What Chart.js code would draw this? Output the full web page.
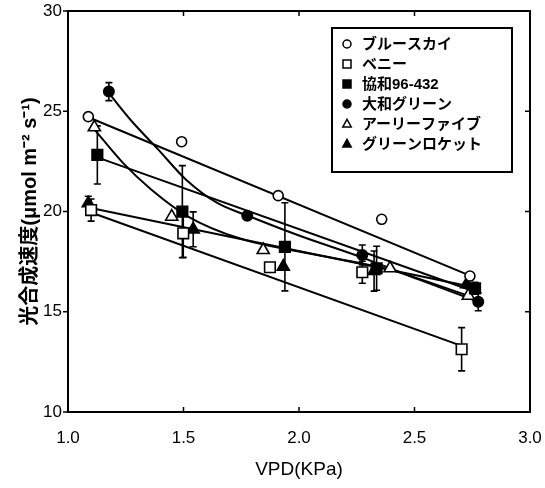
<!DOCTYPE html>
<html>
<head>
<meta charset="utf-8">
<script src="https://cdn.jsdelivr.net/npm/chart.js@4.4.0/dist/chart.umd.min.js"></script>
<style>
  html, body { margin: 0; padding: 0; background: #fff; }
  #wrap { width: 545px; height: 488px; }
</style>
</head>
<body>
<div id="wrap"><canvas id="the-graph" width="545" height="488"></canvas></div>
<script>
var xTicks = [1.0, 1.5, 2.0, 2.5, 3.0];
var yTicks = [10, 15, 20, 25, 30];

var names = ['ブルースカイ', 'ベニー', '協和96-432', '大和グリーン', 'アーリーファイブ', 'グリーンロケット'];

// measured points (VPD kPa, rate), error = half bar length
var vpdBlueSky = [1.088, 1.492, 1.910, 2.358, 2.740];
var rateBlueSky = [24.73, 23.48, 20.79, 19.61, 16.78];

var vpdBeni = [1.100, 1.499, 1.874, 2.274, 2.704];
var rateBeni = [20.07, 18.91, 17.22, 16.97, 13.13];
var errBeni = [0.55, 1.2, 0, 0.55, 1.08];

var vpdKyowa = [1.127, 1.495, 1.939, 2.336, 2.762];
var rateKyowa = [22.82, 19.99, 18.24, 17.17, 16.17];
var errKyowa = [1.45, 2.3, 2.2, 1.1, 0.3];

var vpdYamato = [1.177, 1.776, 2.274, 2.776];
var rateYamato = [25.98, 19.79, 17.83, 15.50];
var errYamato = [0.45, 0, 0.5, 0.45];

var vpdEarly = [1.114, 1.449, 1.845, 2.394, 2.733];
var rateEarly = [24.2, 19.74, 18.08, 17.17, 15.80];

var vpdRocket = [1.088, 1.542, 1.932, 2.325, 2.726];
var rateRocket = [20.41, 19.11, 17.25, 17.03, 16.38];
var errRocket = [0.35, 0.87, 0, 1.0, 0];

// fitted lines / curves
var fitBlueSkyX = [1.088, 2.740], fitBlueSkyY = [24.7, 16.8];
var fitBeniX = [1.100, 2.704], fitBeniY = [19.95, 13.3];
var fitKyowaX = [1.127, 2.762], fitKyowaY = [22.7, 16.0];
var fitRocketX = [1.088, 2.726], fitRocketY = [20.2, 16.3];
var fitYamatoX = [1.177, 1.28, 1.39, 1.51, 1.65, 1.776, 2.0, 2.274, 2.52, 2.776];
var fitYamatoY = [25.9, 24.45, 23.1, 21.6, 20.4, 19.8, 18.8, 17.7, 16.6, 15.5];
var fitEarlyX = [1.114, 1.24, 1.36, 1.52, 1.745, 2.0, 2.39, 2.733];
var fitEarlyY = [24.1, 22.4, 21.1, 19.75, 18.65, 18.0, 17.1, 15.8];

var FONT = '"Liberation Sans", "Noto Sans CJK JP", sans-serif';

function pts(xs, ys) {
  return xs.map(function (x, i) { return { x: x, y: ys[i] }; });
}

function marks(label, xs, ys, style, fill, radius, errs) {
  return {
    label: label, data: pts(xs, ys), showLine: false, order: 0,
    pointStyle: style, pointRadius: radius, pointHoverRadius: radius,
    backgroundColor: fill, borderColor: '#000', pointBorderWidth: 1.6,
    errors: errs || null
  };
}

function fit(xs, ys, curved) {
  return {
    label: '', data: pts(xs, ys), showLine: true, order: 1,
    pointRadius: 0, borderColor: '#000', borderWidth: 2,
    tension: curved ? 0.4 : 0, cubicInterpolationMode: curved ? 'monotone' : 'default',
    fitLine: true
  };
}

var errorBars = {
  id: 'errorBars',
  beforeDatasetsDraw: function (chart) {
    var ctx = chart.ctx, xs = chart.scales.x, ys = chart.scales.y;
    ctx.save();
    ctx.strokeStyle = '#000';
    ctx.lineWidth = 1.6;
    chart.data.datasets.forEach(function (ds) {
      if (!ds.errors) return;
      ds.data.forEach(function (p, i) {
        var e = ds.errors[i];
        if (!e) return;
        var px = xs.getPixelForValue(p.x);
        var top = ys.getPixelForValue(p.y + e), bot = ys.getPixelForValue(p.y - e);
        ctx.beginPath();
        ctx.moveTo(px, top); ctx.lineTo(px, bot);
        ctx.moveTo(px - 3.5, top); ctx.lineTo(px + 3.5, top);
        ctx.moveTo(px - 3.5, bot); ctx.lineTo(px + 3.5, bot);
        ctx.stroke();
      });
    });
    ctx.restore();
  }
};

var frame = {
  id: 'frame',
  afterDatasetsDraw: function (chart) {
    var ctx = chart.ctx, a = chart.chartArea, xs = chart.scales.x, ys = chart.scales.y;
    ctx.save();
    ctx.strokeStyle = '#000';
    ctx.lineWidth = 2;
    ctx.strokeRect(a.left, a.top, a.right - a.left, a.bottom - a.top);
    ctx.lineWidth = 1.5;
    ctx.beginPath();
    xTicks.forEach(function (v) {
      var px = xs.getPixelForValue(v);
      ctx.moveTo(px, a.bottom); ctx.lineTo(px, a.bottom - 5);
      ctx.moveTo(px, a.top); ctx.lineTo(px, a.top + 5);
    });
    yTicks.forEach(function (v) {
      var py = ys.getPixelForValue(v);
      ctx.moveTo(a.left - 5, py); ctx.lineTo(a.left, py);
      ctx.moveTo(a.right, py); ctx.lineTo(a.right - 5, py);
    });
    ctx.stroke();
    ctx.restore();
  }
};

function drawMarker(ctx, style, x, y, r, fill) {
  ctx.beginPath();
  if (style === 'circle') {
    ctx.arc(x, y, r, 0, Math.PI * 2);
  } else if (style === 'rect') {
    ctx.rect(x - r, y - r, 2 * r, 2 * r);
  } else {
    ctx.moveTo(x, y - r * 1.15);
    ctx.lineTo(x + r * 1.05, y + r * 0.75);
    ctx.lineTo(x - r * 1.05, y + r * 0.75);
    ctx.closePath();
  }
  ctx.fillStyle = fill;
  ctx.fill();
  ctx.stroke();
}

var boxLegend = {
  id: 'boxLegend',
  afterDraw: function (chart) {
    var ctx = chart.ctx;
    var bx = 332, by = 28, bw = 180, bh = 144;
    ctx.save();
    ctx.fillStyle = '#fff';
    ctx.fillRect(bx, by, bw, bh);
    ctx.strokeStyle = '#000';
    ctx.lineWidth = 2;
    ctx.strokeRect(bx, by, bw, bh);
    ctx.lineWidth = 1.5;
    ctx.font = 'bold 15px ' + FONT;
    ctx.textBaseline = 'middle';
    chart.data.datasets.filter(function (ds) { return !ds.fitLine; }).forEach(function (ds, i) {
      var y = by + 16 + i * 20;
      drawMarker(ctx, ds.pointStyle, bx + 15, y, 4, ds.backgroundColor);
      ctx.fillStyle = '#000';
      ctx.fillText(ds.label, bx + 30, y + 1);
    });
    ctx.restore();
  }
};

var datasets = [
  marks(names[0], vpdBlueSky, rateBlueSky, 'circle', '#fff', 5),
  marks(names[1], vpdBeni, rateBeni, 'rect', '#fff', 7.5, errBeni),
  marks(names[2], vpdKyowa, rateKyowa, 'rect', '#000', 7.5, errKyowa),
  marks(names[3], vpdYamato, rateYamato, 'circle', '#000', 5.2, errYamato),
  marks(names[4], vpdEarly, rateEarly, 'triangle', '#fff', 7),
  marks(names[5], vpdRocket, rateRocket, 'triangle', '#000', 7, errRocket),
  fit(fitBlueSkyX, fitBlueSkyY, false),
  fit(fitBeniX, fitBeniY, false),
  fit(fitKyowaX, fitKyowaY, false),
  fit(fitYamatoX, fitYamatoY, true),
  fit(fitEarlyX, fitEarlyY, true),
  fit(fitRocketX, fitRocketY, false)
];

var chart = new Chart(document.getElementById('the-graph'), {
  type: 'scatter',
  data: { datasets: datasets },
  plugins: [errorBars, frame, boxLegend],
  options: {
    responsive: false,
    animation: false,
    layout: { padding: { top: 11, right: 15, left: 0, bottom: 0 } },
    plugins: { legend: { display: false }, tooltip: { enabled: false } },
    scales: {
      x: {
        type: 'linear', min: 1, max: 3,
        afterBuildTicks: function (s) { s.ticks = xTicks.map(function (v) { return { value: v }; }); },
        afterFit: function (s) { s.height = 76; s.paddingLeft = 0; s.paddingRight = 0; },
        grid: { display: false, drawTicks: false },
        border: { display: false },
        ticks: { color: '#000', padding: 16, maxRotation: 0, font: { family: FONT, size: 17 },
          callback: function (v) { return v.toFixed(1); } },
        title: { display: true, text: 'VPD(KPa)', color: '#000', padding: { top: 0, bottom: 7 },
          font: { family: FONT, size: 19 } }
      },
      y: {
        type: 'linear', min: 10, max: 30,
        afterBuildTicks: function (s) { s.ticks = yTicks.map(function (v) { return { value: v }; }); },
        afterFit: function (s) { s.width = 68; s.paddingTop = 0; s.paddingBottom = 0; },
        grid: { display: false, drawTicks: false },
        border: { display: false },
        ticks: { color: '#000', padding: 6, font: { family: FONT, size: 17 } },
        title: { display: true, text: '光合成速度(μmol m⁻² s⁻¹)', color: '#000', padding: { top: 18, bottom: 0 },
          font: { family: FONT, size: 20, weight: 'bold' } }
      }
    }
  }
});
</script>
</body>
</html>
